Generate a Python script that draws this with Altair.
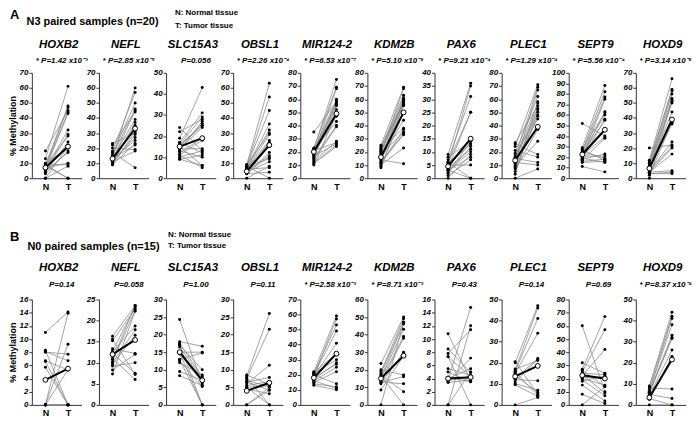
import altair as alt
import pandas as pd

FONT = "Liberation Sans"
GRAY = "#8c8c8c"
AXC = "#333333"
W, H = 50, 106

GENES = ["HOXB2", "NEFL", "SLC15A3", "OBSL1", "MIR124-2", "KDM2B", "PAX6", "PLEC1", "SEPT9", "HOXD9"]

# ---------------- Panel A: N3 paired samples (n=20) ----------------
A_YMAX = [70, 70, 50, 70, 80, 80, 40, 80, 100, 70]
A_STEP = [10, 10, 10, 10, 10, 10, 5, 10, 10, 10]
A_PVAL = ["* P=1.42 x10\u207b\u00b3", "* P=2.85 x10\u207b\u2075", "P=0.056", "* P=2.26 x10\u207b\u2074",
          "* P=6.53 x10\u207b\u2077", "* P=5.10 x10\u207b\u2078", "* P=9.21 x10\u207b\u2074",
          "* P=1.29 x10\u207b\u2074", "* P=5.56 x10\u207b\u2074", "* P=3.14 x10\u207b\u2076"]
A_MEAN_N = [7, 13, 15, 4.5, 20, 16, 4.5, 13.5, 22.5, 6.5]
A_MEAN_T = [21, 33, 19, 22, 49, 50, 15, 39, 46, 39]

A_HOXB2_N = [18, 13, 10, 9, 9, 8, 8, 8, 7, 7, 7, 6, 6, 5, 5, 4, 3, 0, 0, 9]
A_HOXB2_T = [45, 61, 20, 48, 9, 47, 28, 0, 44, 22, 10, 43, 32, 29, 17, 24, 18, 8, 21, 0]
A_NEFL_N = [23, 22, 20, 18, 17, 16, 15, 14, 14, 13, 13, 12, 12, 11, 11, 10, 10, 9, 9, 13]
A_NEFL_T = [30, 44, 19, 57, 7, 50, 46, 60, 33, 39, 22, 45, 27, 35, 18, 29, 37, 23, 31, 25]
A_SLC15A3_N = [24, 22, 19, 17, 17, 16, 16, 15, 15, 14, 14, 13, 13, 12, 11, 11, 10, 9, 9, 15]
A_SLC15A3_T = [13, 28, 43, 31, 12, 25, 29, 6, 26, 24, 14, 27, 10, 19, 5, 18, 13, 6, 11, 25]
A_OBSL1_N = [9, 9, 8, 8, 8, 7, 7, 7, 6, 6, 6, 5, 5, 5, 4, 4, 3, 3, 0, 8]
A_OBSL1_T = [63, 30, 54, 45, 13, 36, 21, 32, 29, 25, 7, 24, 15, 23, 14, 11, 17, 4, 8, 0]
A_MIR124_N = [35, 23, 22, 22, 21, 21, 20, 20, 19, 18, 17, 17, 16, 15, 14, 13, 12, 11, 10, 20]
A_MIR124_T = [58, 69, 75, 43, 60, 27, 56, 52, 68, 47, 59, 26, 55, 40, 39, 28, 25, 24, 49, 57]
A_KDM2B_N = [25, 24, 23, 22, 21, 20, 19, 18, 17, 16, 15, 14, 13, 12, 12, 11, 10, 9, 8, 20]
A_KDM2B_T = [69, 56, 63, 38, 61, 58, 68, 35, 57, 55, 44, 11, 60, 34, 33, 37, 23, 50, 56, 59]
A_PAX6_N = [9, 8, 7, 6, 6, 5, 5, 5, 4, 4, 4, 3, 3, 2, 2, 1, 0, 6, 5, 3]
A_PAX6_T = [36, 14, 31, 25, 0, 35, 13, 5, 15, 11, 25, 8, 0, 14, 12, 7, 9, 13, 15, 10]
A_PLEC1_N = [27, 26, 24, 21, 19, 17, 16, 15, 15, 14, 13, 12, 11, 10, 9, 8, 7, 5, 3, 0]
A_PLEC1_T = [55, 18, 71, 16, 62, 48, 69, 12, 57, 53, 45, 10, 67, 52, 28, 47, 37, 50, 58, 7]
A_SEPT9_N = [52, 29, 28, 27, 26, 25, 24, 23, 22, 21, 21, 20, 19, 18, 18, 17, 16, 15, 11, 24]
A_SEPT9_T = [40, 88, 62, 17, 82, 19, 77, 55, 39, 63, 21, 75, 15, 56, 23, 38, 18, 16, 6, 60]
A_HOXD9_N = [20, 12, 11, 10, 9, 8, 8, 7, 7, 6, 6, 5, 5, 4, 4, 4, 3, 3, 2, 0]
A_HOXD9_T = [22, 66, 59, 58, 56, 53, 50, 44, 37, 51, 36, 24, 21, 20, 16, 5, 4, 3, 37, 52]

# ---------------- Panel B: N0 paired samples (n=15) ----------------
B_YMAX = [16, 25, 30, 30, 70, 60, 16, 50, 80, 50]
B_STEP = [2, 5, 5, 5, 10, 10, 2, 10, 10, 10]
B_PVAL = ["P=0.14", "P=0.058", "P=1.00", "P=0.11", "* P=2.58 x10\u207b\u00b3", "* P=8.71 x10\u207b\u00b3",
          "P=0.43", "P=0.14", "P=0.69", "* P=8.37 x10\u207b\u2074"]
B_MEAN_N = [3.8, 12, 15, 4.0, 18, 15, 4.0, 13.5, 22.5, 3.5]
B_MEAN_T = [5.5, 15.4, 7, 6.3, 34, 28, 4.2, 18.5, 20, 21.5]

B_HOXB2_N = [11.0, 8.3, 8.1, 6.7, 5.7, 8.0, 6.6, 0, 0, 0, 0, 0, 0, 0, 0]
B_HOXB2_T = [14.1, 0, 6.7, 5.3, 0, 7.7, 0, 13.9, 9.2, 5.3, 0, 0, 0, 0, 0]
B_NEFL_N = [16.3, 15.6, 15.2, 13.3, 12.8, 12.5, 11.0, 10.3, 10.0, 9.6, 9.2, 8.3, 7.3, 12.2, 10.8]
B_NEFL_T = [23.5, 7.2, 22.8, 12.2, 23.2, 18.7, 6.0, 22.5, 17.8, 16.5, 10.0, 12.0, 22.2, 7.5, 23.6]
B_SLC15A3_N = [24.3, 18.0, 17.5, 17.2, 17.0, 16.5, 15.0, 14.5, 13.0, 12.5, 12.0, 9.5, 8.3, 12.8, 14.8]
B_SLC15A3_T = [6.0, 16.7, 8.0, 0, 10.0, 7.5, 15.0, 6.5, 14.8, 5.2, 8.5, 7.0, 5.5, 0, 0]
B_OBSL1_N = [8.5, 8.2, 7.5, 7.0, 6.5, 6.5, 6.0, 5.5, 5.0, 5.0, 4.5, 4.0, 0, 0, 7.8]
B_OBSL1_T = [5.8, 26.0, 21.5, 5.1, 7.8, 4.2, 11.3, 6.6, 0, 5.5, 3.2, 6.0, 5.0, 4.2, 0]
B_MIR124_N = [22, 21, 21, 20, 20, 19, 19, 18, 17, 16, 16, 15, 14, 13, 21.5]
B_MIR124_T = [59, 30, 53, 49, 14, 57, 41, 27, 28, 11, 25, 22, 12, 10, 34]
B_KDM2B_N = [23.5, 20, 19, 18, 17, 16, 15, 14, 13, 13, 12.5, 12, 8.5, 0, 16.5]
B_KDM2B_T = [50, 17, 49, 47, 7.5, 46, 43, 39, 16, 12, 38, 30, 28, 47, 0]
B_PAX6_N = [10.8, 8.5, 7.8, 7.3, 5.5, 5.0, 4.0, 3.8, 3.7, 3.5, 3.4, 0, 0, 7.3, 4.2]
B_PAX6_T = [3.7, 4.9, 11.4, 0, 4.5, 3.5, 5.5, 14.8, 4.2, 7.1, 3.8, 12.0, 5.0, 4.3, 3.5]
B_PLEC1_N = [20.5, 20, 17, 16.5, 16, 15.5, 15, 14, 12.5, 12, 11, 10, 9.5, 0, 13.5]
B_PLEC1_T = [5, 47, 21, 46, 41, 4.5, 34, 6, 22, 11.5, 21.5, 7, 4, 3.5, 18.5]
B_SEPT9_N = [60, 32, 27, 26, 25, 24, 23, 22, 21, 20, 19, 18, 15, 8, 0]
B_SEPT9_T = [10, 24, 67, 14, 57, 23, 9, 42, 20, 15, 7, 22, 3, 1, 14]
B_HOXD9_N = [9, 8.5, 8, 7, 6.5, 6, 5.5, 5, 4.5, 4, 3.5, 3, 2.5, 0, 6]
B_HOXD9_T = [44, 42, 7.5, 38, 41, 33, 31.5, 3, 26, 22, 21.5, 0, 23, 0, 32]

A_N = [A_HOXB2_N, A_NEFL_N, A_SLC15A3_N, A_OBSL1_N, A_MIR124_N, A_KDM2B_N, A_PAX6_N, A_PLEC1_N, A_SEPT9_N, A_HOXD9_N]
A_T = [A_HOXB2_T, A_NEFL_T, A_SLC15A3_T, A_OBSL1_T, A_MIR124_T, A_KDM2B_T, A_PAX6_T, A_PLEC1_T, A_SEPT9_T, A_HOXD9_T]
B_N = [B_HOXB2_N, B_NEFL_N, B_SLC15A3_N, B_OBSL1_N, B_MIR124_N, B_KDM2B_N, B_PAX6_N, B_PLEC1_N, B_SEPT9_N, B_HOXD9_N]
B_T = [B_HOXB2_T, B_NEFL_T, B_SLC15A3_T, B_OBSL1_T, B_MIR124_T, B_KDM2B_T, B_PAX6_T, B_PLEC1_T, B_SEPT9_T, B_HOXD9_T]

ONE = pd.DataFrame({"k": [0]})


def txt(s, x, y, size, style="normal", align="center"):
    return alt.Chart(ONE).mark_text(
        text=s, font=FONT, fontSize=size, fontWeight="bold", fontStyle=style,
        align=align, baseline="middle", color="black"
    ).encode(x=alt.value(x), y=alt.value(y))


def panel(gene, nv, tv, mn, mt, ymax, step, ptxt, first, header, gy, py):
    rows = []
    for i, (a, b) in enumerate(zip(nv, tv)):
        rows.append({"pair": i, "grp": "N", "val": a})
        rows.append({"pair": i, "grp": "T", "val": b})
    df = pd.DataFrame(rows)
    mdf = pd.DataFrame({"grp": ["N", "T"], "val": [mn, mt]})

    xe = alt.X("grp:N", scale=alt.Scale(domain=["N", "T"], padding=0.6),
               axis=alt.Axis(title=None, ticks=False, labelAngle=0, labelFontSize=9,
                             labelFontWeight="bold", labelPadding=4, labelFont=FONT))
    yaxis_kw = dict(values=list(range(0, ymax + 1, step)), labelFontSize=8, labelFontStyle="italic",
                    labelFontWeight="bold", labelFont=FONT, tickSize=3, labelPadding=1,
                    labelOverlap=False)
    if first:
        yaxis = alt.Axis(title="% Methylation", titleFontSize=9, titleFontWeight="bold",
                         titleFont=FONT, titlePadding=2, **yaxis_kw)
    else:
        yaxis = alt.Axis(title=None, **yaxis_kw)
    ye = alt.Y("val:Q", scale=alt.Scale(domain=[0, ymax], nice=False), axis=yaxis)

    base = alt.Chart(df)
    lines = base.mark_line(color=GRAY, strokeWidth=0.8).encode(x=xe, y=ye, detail="pair:N")
    pts = base.mark_circle(color="black", size=9, opacity=1).encode(x=xe, y=ye)
    mline = alt.Chart(mdf).mark_line(color="black", strokeWidth=2).encode(x=xe, y=ye)
    mpts = alt.Chart(mdf).mark_point(shape="circle", filled=True, fill="white", stroke="black",
                                     strokeWidth=1, size=24, opacity=1).encode(x=xe, y=ye)
    layers = [lines, pts, mline, mpts,
              txt(gene, W / 2 + 2, gy, 11.5, "italic"),
              txt(ptxt, W / 2 + 5, py, 8, "italic")]
    layers += header
    return alt.layer(*layers).properties(width=W, height=H)


def row(ns, ts, ymaxs, steps, pvals, mn, mt, header, gy, py):
    panels = []
    for i, g in enumerate(GENES):
        panels.append(panel(g, ns[i], ts[i], mn[i], mt[i], ymaxs[i], steps[i],
                            pvals[i], i == 0, header if i == 0 else [], gy, py))
    return panels


hdrA = [txt("A", -22, -58, 13, align="left"),
        txt("N3 paired samples (n=20)", 61, -51, 11),
        txt("N: Normal tissue", 144, -60, 8, align="left"),
        txt("T: Tumor tissue", 144, -47, 8, align="left")]
hdrB = [txt("B", -22, -63, 13, align="left"),
        txt("N0 paired samples (n=15)", 62, -53, 11),
        txt("N: Normal tissue", 137, -65, 8, align="left"),
        txt("T: Tumor tissue", 137, -54, 8, align="left")]

panelsA = row(A_N, A_T, A_YMAX, A_STEP, A_PVAL, A_MEAN_N, A_MEAN_T, hdrA, -28, -12)
panelsB = row(B_N, B_T, B_YMAX, B_STEP, B_PVAL, B_MEAN_N, B_MEAN_T, hdrB, -32, -15)

chart = alt.concat(
    *(panelsA + panelsB), columns=10,
    spacing=alt.RowColnumber(row=122, column=17.5), bounds="flush"
).properties(
    padding=0
).configure_axis(
    grid=False, domainColor=AXC, tickColor=AXC, labelColor="black", titleColor="black"
).configure_view(strokeWidth=0)

chart.save("out.html", embed_options={"renderer": "svg", "actions": False})
